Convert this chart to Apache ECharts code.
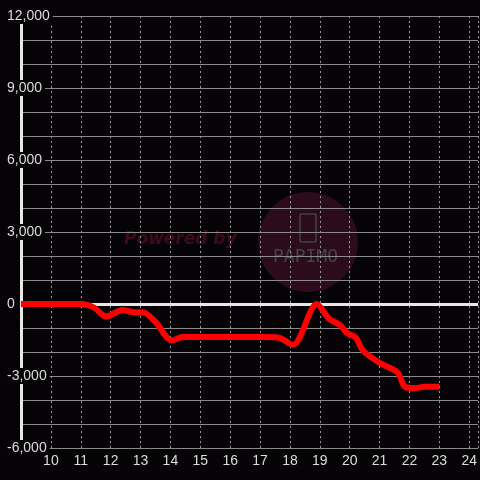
<!DOCTYPE html>
<html>
<head>
<meta charset="utf-8">
<script src="https://cdn.jsdelivr.net/npm/echarts@6/dist/echarts.min.js"></script>
<style>
  html, body { margin: 0; padding: 0; background: #050305; }
  #chart { width: 480px; height: 480px; }
</style>
</head>
<body>
<div id="chart"></div>
<script>
// hour of day vs cumulative value
const hours = [9, 11, 11.45, 11.85, 12.4, 12.7, 13.1, 13.5, 14.05, 14.4, 15, 16, 17, 17.6, 18.1, 18.9, 19.3, 19.7, 19.9, 20.2, 20.45, 21, 21.6, 21.85, 22.2, 22.5, 23]
const values = [0, 0, -150, -520, -250, -330, -350, -750, -1520, -1380, -1380, -1380, -1380, -1400, -1700, 0, -600, -900, -1200, -1400, -1950, -2450, -2850, -3450, -3500, -3450, -3450]
const yTicks = [-6000, -3000, 0, 3000, 6000, 9000, 12000]
const xTicks = [10, 11, 12, 13, 14, 15, 16, 17, 18, 19, 20, 21, 22, 23, 24]

const chart = echarts.init(document.getElementById('chart'))

const option = {
  backgroundColor: '#050305',
  animation: false,
  textStyle: { fontFamily: 'Liberation Sans' },
  grid: { left: 21, right: 0, top: 16, bottom: 32 },
  graphic: [
    {
      type: 'circle', z: -10,
      shape: { cx: 308, cy: 242, r: 50 },
      style: { fill: '#2c0b1d' }
    },
    {
      type: 'text', z: -10, left: 124, top: 231,
      style: { text: 'Powered by', fill: '#3e0a1c', font: 'italic bold 17px "DejaVu Sans"' }
    },
    {
      type: 'rect', z: -10,
      shape: { x: 300, y: 214, width: 16, height: 28, r: 2 },
      style: { fill: 'none', stroke: '#444', lineWidth: 1.5 }
    },
    {
      type: 'text', z: -10, left: 273, top: 248,
      style: { text: 'PAPIMO', fill: '#444', font: '18px "DejaVu Sans Mono"' }
    }
  ],
  xAxis: {
    type: 'value',
    min: 9,
    max: 24.3,
    interval: 1,
    axisLine: { show: false },
    axisTick: { show: false },
    axisLabel: {
      color: '#dddddd', fontSize: 14, margin: 6,
      showMinLabel: false, showMaxLabel: false,
      formatter: v => xTicks.includes(v) ? String(v) : ''
    },
    splitLine: { show: true, lineStyle: { color: '#999', type: [2, 3], width: 1 } }
  },
  yAxis: {
    type: 'value',
    min: -6000,
    max: 12000,
    interval: 3000,
    axisLine: { show: true, lineStyle: { color: '#e8e8e8', width: 3 } },
    axisTick: { show: false },
    minorTick: { show: false, splitNumber: 3 },
    minorSplitLine: { show: true, lineStyle: { color: '#8a8a8a', width: 1 } },
    splitLine: { show: true, lineStyle: { color: '#8a8a8a', width: 1 } },
    axisLabel: {
      color: '#dddddd', fontSize: 14, align: 'left', margin: 14,
      backgroundColor: '#050305', padding: [1, 3, 1, 0],
      formatter: v => yTicks.includes(v) ? v.toLocaleString('en-US') : ''
    }
  },
  series: [
    {
      type: 'line',
      data: hours.map((h, i) => [h, values[i]]),
      smooth: 0.3,
      symbol: 'none',
      lineStyle: { color: '#ff0000', width: 6, cap: 'butt' },
      z: 5,
      markLine: {
        silent: true,
        symbol: 'none',
        label: { show: false },
        lineStyle: { color: '#e8e8e8', width: 3, type: 'solid' },
        data: [{ yAxis: 0 }],
        z: 3
      }
    }
  ]
}

chart.setOption(option)
</script>
</body>
</html>
